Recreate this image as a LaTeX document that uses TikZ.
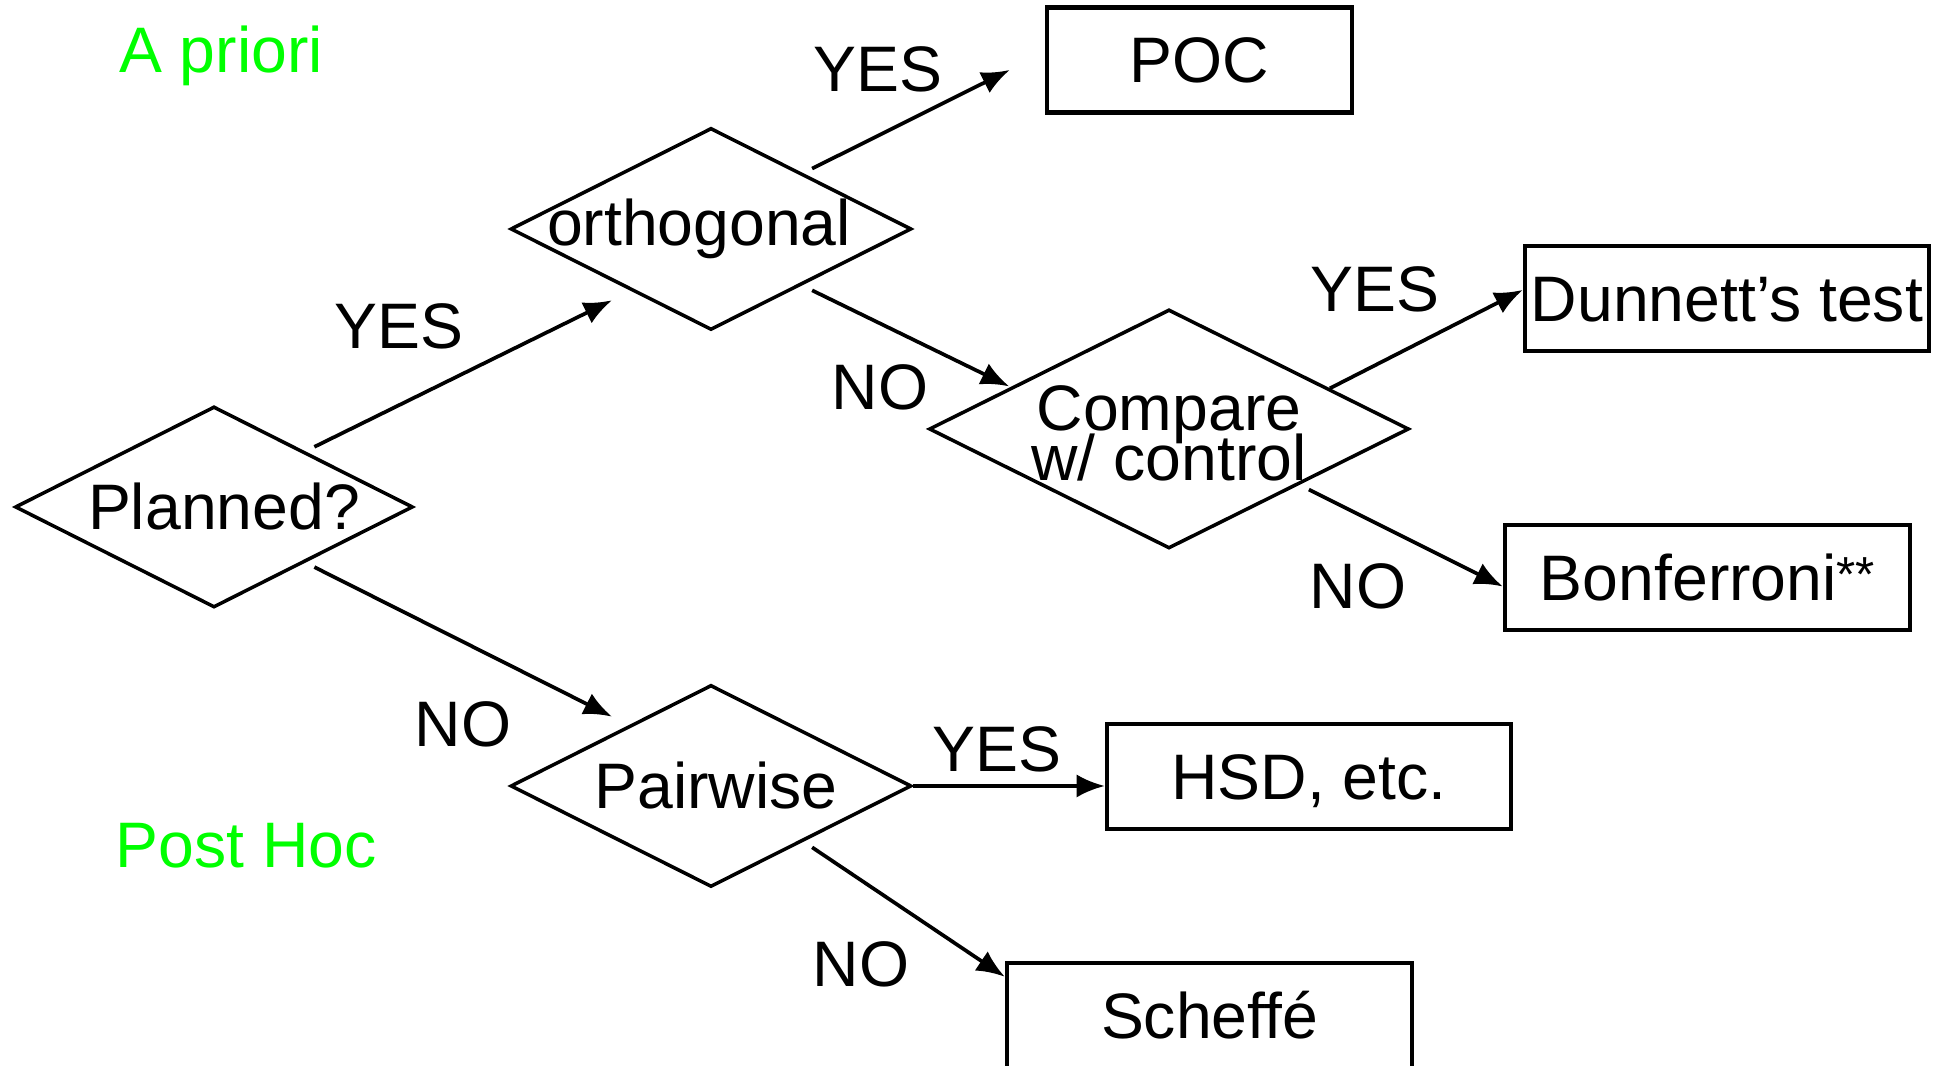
\documentclass[tikz,border=0pt]{standalone}
\usepackage{fontspec}
\setmainfont{Liberation Sans}
\usetikzlibrary{shapes.geometric,arrows.meta,positioning,calc}
\definecolor{mygreen}{RGB}{0,255,0}

\begin{document}
\begin{tikzpicture}[
    font=\fontsize{18.3}{14.2}\selectfont,
    decision/.style={diamond, draw, line width=1pt, inner sep=0pt, minimum width=4.01cm, minimum height=2.02cm},
    result/.style={rectangle, draw, line width=1.3pt, inner sep=0pt, minimum width=4.04cm, minimum height=1.05cm, text height=0.46cm, text depth=0pt},
    answer/.style={anchor=base, inner sep=0pt},
    arr/.style={->, >={Latex[length=8pt,width=6.6pt]}, line width=1.05pt}
]
    \useasboundingbox (0,0) rectangle (19.5,10.66);

    \node[decision, minimum width=3.98cm, minimum height=2.01cm, label={[xshift=0.1cm]center:Planned?}] (planned) at (2.14,5.59) {};
    \node[decision, label={[xshift=-0.12cm]center:orthogonal}] (orth) at (7.11,8.37) {};
    \node[decision, minimum width=4.8cm, minimum height=2.39cm, label={[align=center, yshift=-0.04cm]center:Compare\\[-0.135cm]w/ control}] (comp) at (11.69,6.37) {};
    \node[decision, label={[xshift=0.05cm]center:Pairwise}] (pair) at (7.11,2.80) {};

    \node[result, minimum width=3.05cm] (poc) at (11.995,10.06) {POC};
    \node[result] (dunnett) at (17.27,7.675) {Dunnett’s test};
    \node[result, minimum width=4.05cm] (bonf) at (17.075,4.885) {Bonferroni\raisebox{2.5pt}{\fontsize{14}{14}\selectfont **}};
    \node[result] (hsd) at (13.09,2.895) {HSD, etc.};
    \node[result, minimum width=4.05cm] (scheffe) at (12.095,0.505) {Scheffé};

    \node[answer, text=mygreen] (apriori) at (2.21,9.93) {A priori};
    \node[answer, text=mygreen] (posthoc) at (2.46,1.98) {Post Hoc};
    \node[answer] (yes1) at (3.99,7.17) {YES};
    \node[answer] (no1) at (4.63,3.19) {NO};
    \node[answer] (yes2) at (8.78,9.74) {YES};
    \node[answer] (no2) at (8.80,6.56) {NO};
    \node[answer] (yes3) at (13.75,7.54) {YES};
    \node[answer] (no3) at (13.58,4.57) {NO};
    \node[answer] (yes4) at (9.97,2.94) {YES};
    \node[answer] (no4) at (8.61,0.79) {NO};

    \draw[arr] ([yshift=0.09cm]planned.north east) -- ([xshift=0.02cm,yshift=-0.2cm]orth.south west);
    \draw[arr] ([yshift=-0.09cm]planned.south east) -- ([xshift=0.02cm,yshift=0.18cm]pair.north west);
    \draw[arr] ([yshift=0.09cm]orth.north east) -- ([xshift=-0.35cm,yshift=-0.1cm]poc.west);
    \draw[arr] ([yshift=-0.1cm]orth.south east) -- ([xshift=-0.39cm,yshift=-0.18cm]comp.north west);
    \draw[arr] ([xshift=0.4cm,yshift=-0.2cm]comp.north east) -- ([yshift=0.085cm]dunnett.west);
    \draw[arr] ([xshift=0.19cm]comp.south east) -- ([yshift=-0.09cm]bonf.west);
    \draw[arr] (pair.east) -- (pair.east -| hsd.west);
    \draw[arr] ([yshift=-0.1cm]pair.south east) -- ([yshift=-0.16cm]scheffe.north west);
\end{tikzpicture}
\end{document}
